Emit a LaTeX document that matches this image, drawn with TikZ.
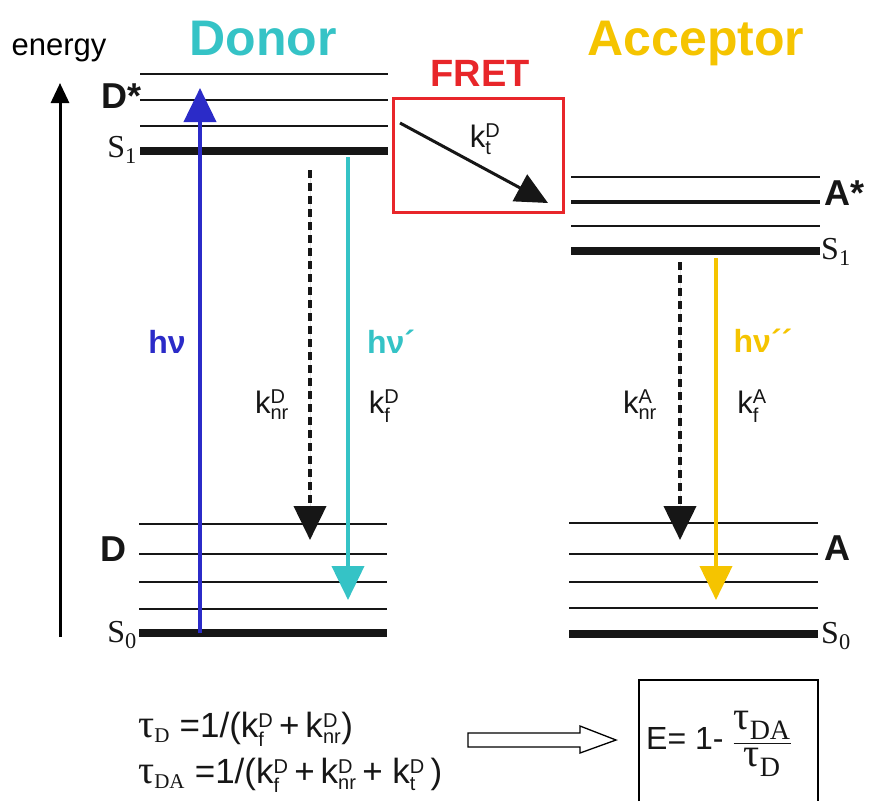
\documentclass[tikz,border=0pt]{standalone}
\usepackage{fontspec}
\usepackage{amsmath}
\setmainfont{Liberation Sans}
\newfontfamily\serifface{Liberation Serif}
\usetikzlibrary{arrows.meta}
\definecolor{FretBlue}{HTML}{2B2BC8}
\definecolor{FretCyan}{HTML}{35C3C6}
\definecolor{FretGold}{HTML}{F5C400}
\definecolor{FretRed}{HTML}{E8262A}
\definecolor{FretInk}{HTML}{161616}
\newcommand{\fsz}[1]{\fontsize{#1}{#1}\selectfont}
\newcommand{\rate}[2]{k$^{\text{\fsz{20}#1}}_{\text{\fsz{20}#2}}$}
\newcommand{\taus}[1]{{\serifface\fsz{40}τ}$_{\text{\serifface\fsz{21}#1}}$}
\newcommand{\singlet}[1]{{\serifface S$_{\text{\serifface #1}}$}}

\begin{document}
\begin{tikzpicture}[
    x=1pt, y=-1pt,
    level/.style={draw=FretInk, line width=2.6pt},
    mid level/.style={draw=FretInk, line width=4pt},
    ground/.style={draw=FretInk, line width=8pt},
    title/.style={font=\fsz{50}\bfseries, anchor=base},
    state label/.style={font=\fsz{36}\bfseries, text=FretInk},
    singlet label/.style={font=\fsz{32}, text=FretInk, inner sep=1pt},
    photon/.style={font=\fsz{32}\bfseries, anchor=base},
    rate label/.style={font=\fsz{31}, text=FretInk, anchor=base},
    formula/.style={font=\fsz{35}, text=FretInk, anchor=base west, inner sep=0pt},
    transition/.style={line width=4pt,
                       -{Triangle[length=34pt,width=32pt]}},
    nonrad/.style={transition, draw=FretInk, dash pattern=on 8pt off 5pt}
]
    \useasboundingbox (0,0) rectangle (869,801);

    % energy axis
    \node[font=\fsz{31}, anchor=base] (energy) at (59,55) {energy};
    \coordinate (axisbot) at (60,637);
    \coordinate (axistop) at (60,83);
    \draw[line width=3pt, -{Triangle[length=20pt,width=18pt]}]
        (axisbot) -- (axistop);

    \node[title, text=FretCyan] (donor) at (263,55) {Donor};
    \node[title, text=FretGold] (acceptor) at (696,55) {Acceptor};
    \node[font=\fsz{38}\bfseries, text=FretRed, anchor=base] (fret)
        at (480,86) {FRET};

    % donor levels
    \foreach \y in {74,100,126} {
        \draw[level] (140,\y) -- (388,\y);
    }
    \draw[ground] (140,151) -- (388,151);
    \foreach \y in {524,554,582,609} {
        \draw[level] (139,\y) -- (387,\y);
    }
    \draw[ground] (139,633) -- (387,633);

    % acceptor levels
    \draw[level] (571,177) -- (820,177);
    \draw[mid level] (571,202) -- (820,202);
    \draw[level] (571,226) -- (820,226);
    \draw[ground] (571,251) -- (820,251);
    \foreach \y in {523,554,582,608} {
        \draw[level] (569,\y) -- (818,\y);
    }
    \draw[ground] (569,634) -- (818,634);

    \node[state label, anchor=east, inner sep=1pt] (dstar) at (143,96) {D*};
    \node[singlet label, anchor=east] (ds1) at (138,150) {\singlet{1}};
    \node[state label, anchor=east, inner sep=1pt] (dground) at (128,549) {D};
    \node[singlet label, anchor=east] (ds0) at (138,635) {\singlet{0}};
    \node[state label, anchor=west, inner sep=1pt] (astar) at (823,193) {A*};
    \node[singlet label, anchor=west] (as1) at (820,252) {\singlet{1}};
    \node[state label, anchor=west, inner sep=1pt] (aground) at (823,548) {A};
    \node[singlet label, anchor=west] (as0) at (820,636) {\singlet{0}};

    % donor transitions
    \coordinate (absbot) at (200,633);
    \coordinate (abstop) at (200,88);
    \draw[transition, draw=FretBlue, fill=FretBlue] (absbot) -- (abstop);
    \coordinate (dnrtop) at (310,170);
    \coordinate (dnrbot) at (310,540);
    \draw[nonrad, fill=FretInk] (dnrtop) -- (dnrbot);
    \coordinate (dfltop) at (348,157);
    \coordinate (dflbot) at (348,600);
    \draw[transition, draw=FretCyan, fill=FretCyan] (dfltop) -- (dflbot);

    \node[photon, text=FretBlue] (hv) at (167,353) {hν};
    \node[photon, text=FretCyan] (hvd) at (391,353) {hν´};
    \node[rate label] (knrd) at (272,413) {\rate{D}{nr}};
    \node[rate label] (kfd) at (384,413) {\rate{D}{f}};

    % energy transfer
    \draw[FretRed, line width=3pt] (393,98) rectangle (563,212);
    \coordinate (fretstart) at (400,123);
    \coordinate (fretend) at (548,203);
    \draw[line width=3pt, draw=FretInk, fill=FretInk,
          -{Triangle[length=32pt,width=30pt]}] (fretstart) -- (fretend);
    \node[rate label] (ktd) at (485,147) {\rate{D}{t}};

    % acceptor transitions
    \coordinate (anrtop) at (680,262);
    \coordinate (anrbot) at (680,540);
    \draw[nonrad, fill=FretInk] (anrtop) -- (anrbot);
    \coordinate (afltop) at (716,258);
    \coordinate (aflbot) at (716,600);
    \draw[transition, draw=FretGold, fill=FretGold] (afltop) -- (aflbot);

    \node[photon, text=FretGold] (hva) at (763,352) {hν´´};
    \node[rate label] (knra) at (640,413) {\rate{A}{nr}};
    \node[rate label] (kfa) at (752,413) {\rate{A}{f}};

    % lifetimes and efficiency
    \node[formula] (taud) at (138,737)
        {\taus{D} =1/(\rate{D}{f}\,+\,\rate{D}{nr})};
    \node[formula] (tauda) at (138,783)
        {\taus{DA} =1/(\rate{D}{f}\,+\,\rate{D}{nr}\,+ \rate{D}{t}\,)};
    \draw[line width=1.3pt, fill=white]
        (468,733) -- (580,733) -- (580,726) -- (616,740) -- (580,753)
        -- (580,747) -- (468,747) -- cycle;
    \draw[line width=1.5pt] (639,801) |- (818,680) -- (818,801);
    \node[font=\fsz{32}, text=FretInk, anchor=west, inner sep=0pt] (eff)
        at (646,744)
        {E= 1- $\dfrac{\text{\serifface\fsz{40}τ}_{\text{\serifface\fsz{28}DA}}}
                      {\text{\serifface\fsz{40}τ}_{\text{\serifface\fsz{28}D}}}$};
\end{tikzpicture}
\end{document}
